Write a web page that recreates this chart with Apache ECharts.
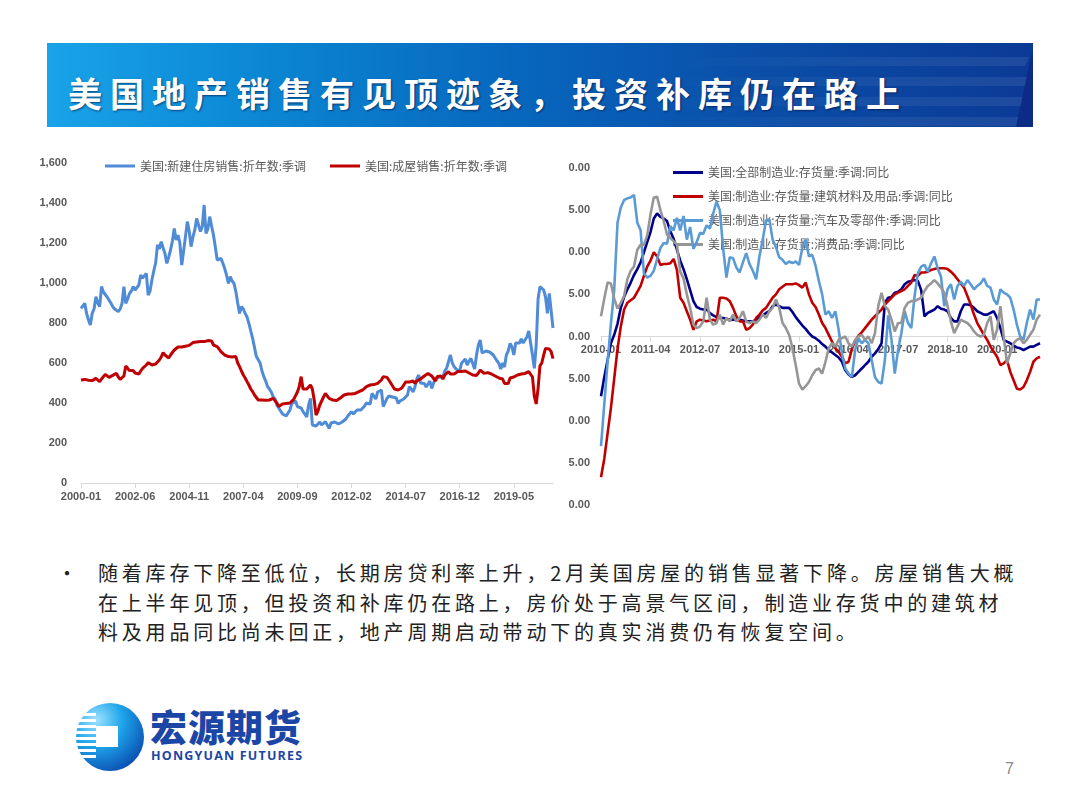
<!DOCTYPE html>
<html><head><meta charset="utf-8">
<script src="https://cdn.jsdelivr.net/npm/echarts@6/dist/echarts.min.js"></script>
<style>
html,body{margin:0;padding:0;background:#fff;}
#page{position:relative;width:1080px;height:810px;overflow:hidden;background:#fff;font-family:"Noto Sans CJK SC","Noto Sans",sans-serif;}
#banner{position:absolute;left:47px;top:43px;width:986px;height:84px;overflow:hidden;
 background:linear-gradient(90deg,#19a3e8 0%,#0b86d3 22%,#0766bd 48%,#0a4ea8 72%,#0b3a96 100%);}
.stripe{position:absolute;left:620px;width:360px;height:9px;background:linear-gradient(90deg,rgba(255,255,255,0) 0%,rgba(255,255,255,0.06) 60%,rgba(255,255,255,0.08) 100%);transform:skewX(-25deg);}
#cap{position:absolute;left:978px;top:0;width:70px;height:84px;background:#0c2b86;transform:skewX(-12deg);border-bottom-right-radius:60px 84px;}
#title{position:absolute;left:68px;top:66px;color:#fff;font-size:34px;font-weight:700;letter-spacing:8px;line-height:54px;white-space:nowrap;text-shadow:1px 1px 2px rgba(0,0,40,0.55);}
#chart1{position:absolute;left:0;top:140px;width:565px;height:380px;}
#clip2{position:absolute;left:569px;top:140px;width:500px;height:380px;overflow:hidden;}
#chart2{position:absolute;left:-30px;top:0;width:530px;height:380px;}
#bullet{position:absolute;left:57px;top:558px;font-size:20px;line-height:29.5px;color:#222;}
#para{position:absolute;left:98px;top:558px;font-size:20px;line-height:29.5px;letter-spacing:3.8px;color:#222;white-space:nowrap;}
#logoText{position:absolute;left:150px;top:703px;font-size:37px;font-weight:900;color:#1c46a6;letter-spacing:1px;line-height:46px;white-space:nowrap;}
#logoEn{position:absolute;left:151px;top:747px;font-size:12.5px;font-weight:700;color:#1c46a6;letter-spacing:1.2px;font-family:"Open Sans","Liberation Sans",sans-serif;white-space:nowrap;}
#pnum{position:absolute;left:1005px;top:760px;font-size:16px;color:#8a8a8a;font-family:"Liberation Sans",sans-serif;}
</style></head>
<body><div id="page">
<div id="banner">
 <div class="stripe" style="top:14px"></div>
 <div class="stripe" style="top:34px"></div>
 <div class="stripe" style="top:54px"></div>
 <div class="stripe" style="top:74px"></div>
 <div id="cap"></div>
</div>
<div id="title">美国地产销售有见顶迹象，投资补库仍在路上</div>
<div id="chart1"></div>
<div id="clip2"><div id="chart2"></div></div>
<div id="bullet">•</div>
<div id="para">随着库存下降至低位，长期房贷利率上升，2月美国房屋的销售显著下降。房屋销售大概<br>在上半年见顶，但投资和补库仍在路上，房价处于高景气区间，制造业存货中的建筑材<br>料及用品同比尚未回正，地产周期启动带动下的真实消费仍有恢复空间。</div>
<svg style="position:absolute;left:70px;top:700px" width="76" height="76" viewBox="0 0 76 76">
 <defs>
  <radialGradient id="lg" cx="30%" cy="25%" r="85%">
   <stop offset="0%" stop-color="#9fe3ff"/>
   <stop offset="45%" stop-color="#1ea5ea"/>
   <stop offset="100%" stop-color="#0a4aae"/>
  </radialGradient>
 </defs>
 <circle cx="40" cy="37" r="34" fill="url(#lg)"/>
 <rect x="0" y="13" width="26" height="3" fill="#fff"/>
 <rect x="0" y="19" width="26" height="3" fill="#fff"/>
 <rect x="0" y="25" width="26" height="3" fill="#fff"/>
 <rect x="0" y="31" width="26" height="3" fill="#fff"/>
 <rect x="0" y="37" width="26" height="3" fill="#fff"/>
 <rect x="0" y="43" width="26" height="3" fill="#fff"/>
 <rect x="0" y="49" width="26" height="3" fill="#fff"/>
 <rect x="0" y="55" width="26" height="3" fill="#fff"/>
 <rect x="26" y="26" width="22" height="21" fill="#fff"/>
</svg>
<div id="logoText">宏源期货</div>
<div id="logoEn">HONGYUAN FUTURES</div>
<div id="pnum">7</div>
</div>
<script>
// ---------- data: left chart (monthly, 2000-01 .. 2021-02) ----------
const leftStart = [2000, 1];
const leftCount = 254;
const newHomeSales = [
873,870,898,848,815,790,848,870,932,900,882,982,
955,948,930,915,900,882,870,865,857,870,898,982,
898,920,948,960,982,965,957,990,1040,1025,1015,1048,
940,960,1015,1060,1100,1190,1170,1207,1175,1148,1098,1130,
1165,1210,1273,1215,1240,1200,1090,1160,1232,1307,1260,1182,
1230,1265,1323,1290,1257,1282,1390,1248,1270,1332,1285,1240,
1180,1115,1125,1123,1100,1073,1040,998,1032,1010,998,957,
900,848,882,870,848,830,798,760,723,715,632,640,
600,560,532,510,482,470,455,432,420,390,375,365,
345,340,335,350,365,398,405,410,382,390,375,357,
345,330,390,423,290,300,285,280,305,290,290,307,
300,273,300,310,305,300,295,300,305,310,320,335,
340,357,345,345,365,370,365,373,385,400,398,395,
448,440,420,455,465,465,382,390,423,435,440,430,
440,425,398,410,415,420,410,440,482,470,455,480,
520,540,500,510,498,480,490,510,473,500,523,520,
530,540,530,560,575,580,640,600,582,570,580,560,
600,607,620,590,610,623,615,570,640,690,715,650,
648,660,665,655,657,640,625,610,598,570,600,580,
640,660,698,680,640,700,710,700,720,700,715,730,
760,770,640,573,690,920,982,975,965,930,848,948,
945,775];
const existingHomeSales = [
515,513,518,512,514,510,512,518,523,515,507,520,
530,543,535,528,532,538,545,548,530,518,518,535,
585,575,562,558,562,550,540,545,560,573,580,590,
602,595,590,585,595,605,615,630,652,640,632,625,
640,650,665,673,680,685,680,682,684,690,688,695,
702,700,705,707,707,710,707,708,712,715,710,690,
685,682,670,657,648,640,636,632,632,630,632,632,
600,582,560,540,525,507,490,470,457,440,430,415,
412,415,415,414,415,415,418,423,415,400,382,390,
395,398,398,402,400,410,418,425,455,482,532,470,
465,470,478,490,470,415,340,360,390,410,430,448,
435,423,430,415,407,412,420,425,430,440,435,445,
448,445,450,448,452,457,460,465,475,482,485,490,
490,492,495,498,505,515,532,540,528,515,500,485,
470,465,465,468,475,490,505,507,505,500,510,498,
510,505,520,530,535,545,548,540,535,545,510,532,
540,535,520,540,550,557,545,540,545,555,557,555,
557,555,560,560,550,548,540,535,538,550,565,560,
548,545,552,548,545,540,535,532,525,520,520,498,
500,498,525,520,530,532,540,540,545,548,548,550,
557,560,530,433,395,472,586,600,640,673,665,670,
657,622];
const leftNames = ['美国:新建住房销售:折年数:季调','美国:成屋销售:折年数:季调'];
const leftYTicks = {min:0, max:1600, interval:200};

// ---------- data: right chart (monthly, 2010-01 .. 2021-02, YoY %) ----------
const rightStart = [2010, 1];
const rightCount = 134;
const invAllMfg = [
-7.1,-4.8,-2.8,-0.8,0.2,1.5,3.4,4.7,5.6,6.4,7.3,8.0,
8.8,10.0,11.2,12.4,14.0,14.6,14.2,14.0,13.7,12.5,11.6,10.3,
9.0,8.0,6.8,5.5,4.2,3.5,3.3,3.2,3.2,2.8,2.5,2.3,
2.2,2.2,2.1,2.0,2.0,2.0,2.0,1.9,1.8,1.8,1.8,2.0,
2.3,2.5,2.8,3.0,3.6,3.8,3.6,3.4,3.4,3.4,2.9,2.3,
1.8,1.3,0.9,0.4,0.0,-0.2,-0.5,-0.9,-1.2,-1.6,-1.9,-2.2,
-2.5,-3.0,-4.0,-4.5,-4.8,-4.6,-4.2,-3.8,-3.4,-3.0,-2.4,-2.0,
-1.5,-0.8,4.0,4.6,4.7,5.2,5.3,5.6,6.2,6.5,6.6,6.7,
6.6,5.5,2.4,2.8,3.0,3.2,3.6,3.3,3.2,3.0,2.2,1.8,
1.8,3.0,3.8,3.8,3.7,3.4,3.0,2.8,2.6,2.6,2.8,3.0,
2.2,1.0,-0.4,-0.6,-0.8,-1.1,-1.3,-1.4,-1.6,-1.4,-1.2,-1.2,
-1.0,-0.8];
const invBuildingMaterials = [
-16.7,-14.5,-11.5,-8.5,-5.0,-1.5,1.2,3.2,4.0,4.3,4.6,5.3,
6.0,7.2,8.3,9.0,10.0,9.5,8.5,8.6,8.6,8.7,9.2,7.9,
4.6,4.0,3.0,2.0,0.8,1.8,2.0,1.9,1.8,1.9,2.0,1.8,
4.6,4.6,4.5,4.2,3.4,2.4,1.8,1.8,0.8,1.0,1.4,2.2,
2.6,3.1,3.4,4.0,4.6,5.0,5.6,5.9,6.2,6.2,6.2,6.3,
6.1,5.8,6.4,5.0,4.0,3.5,2.6,1.6,1.0,0.2,-0.6,-1.4,
-1.8,-2.4,-3.2,-3.0,-1.5,-0.5,0.1,0.5,1.0,1.5,2.0,2.4,
2.8,3.2,3.8,4.2,4.6,5.0,5.2,5.4,5.6,6.0,6.4,7.3,
7.2,7.6,7.6,7.7,7.9,8.0,8.1,8.1,8.1,8.0,7.7,7.3,
6.8,6.3,5.8,4.8,3.8,2.6,1.6,0.9,0.2,-0.4,-1.2,-1.8,
-2.4,-3.4,-3.2,-2.8,-4.2,-5.2,-6.2,-6.3,-6.0,-5.2,-4.2,-3.0,
-2.6,-2.4];
const invAutoParts = [
-13.0,-8.0,-3.0,1.5,5.5,13.5,15.3,16.2,16.4,16.5,16.8,13.5,
12.6,7.5,7.0,7.2,7.8,9.2,10.5,11.1,11.0,13.1,12.6,14.1,
12.6,14.3,11.5,13.0,10.4,11.2,12.3,12.2,13.2,12.8,14.6,16.0,
15.0,10.5,7.0,9.4,9.3,8.2,7.6,8.8,9.9,8.6,7.8,6.8,
9.5,11.5,13.8,13.9,11.5,10.6,9.4,9.1,8.6,8.9,8.7,8.9,
8.5,10.5,11.5,9.5,9.7,8.4,6.6,5.0,2.6,3.0,2.2,3.0,
0.8,-2.0,-3.8,-4.4,-4.8,-1.6,-0.2,-0.8,-0.4,-0.8,-2.8,-4.8,
-5.4,-5.6,-2.8,2.5,-0.4,-4.4,-1.6,0.4,3.0,1.6,1.0,4.8,
7.5,8.3,8.5,7.7,8.7,9.5,8.1,7.1,3.6,5.6,6.2,4.4,
6.0,6.5,6.0,6.7,6.2,5.6,6.0,6.3,6.9,6.0,5.8,4.4,
3.8,5.6,5.2,5.0,4.6,3.2,1.4,0.0,-0.4,1.6,3.2,2.0,
4.4,4.4];
const invConsumerGoods = [
2.4,4.5,6.4,6.3,4.5,3.3,4.0,4.8,6.8,7.8,8.3,10.3,
10.9,10.9,12.0,14.5,16.5,16.6,15.0,13.7,12.1,11.7,11.3,10.9,
7.7,6.9,5.0,3.4,1.4,1.0,1.2,1.8,4.6,2.0,1.4,1.6,
2.6,1.4,2.2,1.8,2.6,1.8,2.2,3.0,1.8,1.6,1.8,1.6,
2.0,2.6,2.2,3.0,3.4,4.4,3.4,1.6,1.0,0.2,-1.4,-3.4,
-5.6,-6.3,-5.9,-5.4,-4.6,-4.0,-3.8,-4.4,-3.0,-1.4,-0.8,-1.2,
-0.4,-0.2,0.0,-0.8,-1.2,-0.4,0.0,0.2,-0.4,0.0,-0.8,0.4,
3.6,5.2,3.6,3.2,2.0,0.6,1.6,1.6,3.4,4.0,4.2,4.2,
4.4,4.6,5.4,6.0,6.3,6.7,6.3,5.8,5.2,3.6,1.8,0.4,
1.2,2.0,1.8,1.6,1.2,0.6,0.2,0.0,0.2,1.6,2.4,-0.4,
0.8,3.6,0.0,-3.2,-2.0,-0.8,-0.4,-0.2,-0.8,-0.4,0.2,0.8,
2.0,2.6];
const rightNames = ['美国:全部制造业:存货量:季调:同比','美国:制造业:存货量:建筑材料及用品:季调:同比','美国:制造业:存货量:汽车及零部件:季调:同比','美国:制造业:存货量:消费品:季调:同比'];
const rightYTicks = {min:-20, max:20, interval:5};

// ---------- helpers ----------
function monthLabels(start, n){
  const out=[]; let y=start[0], m=start[1];
  for(let k=0;k<n;k++){ out.push(y+'-'+String(m).padStart(2,'0')); m++; if(m>12){m=1;y++;} }
  return out;
}
const leftCategories = monthLabels(leftStart, leftCount);
const rightCategories = monthLabels(rightStart, rightCount);

const axisGray = '#595959';
const lineGray = '#d9d9d9';
const labelFont = {color:axisGray, fontSize:11, fontWeight:'bold', fontFamily:'Liberation Sans, Arial, sans-serif'};
const legendText = {color:axisGray, fontSize:12, fontFamily:'Noto Sans CJK SC, sans-serif'};

// ---------- left chart ----------
const leftColors = ['#4F8BD6','#C00000'];
const c1 = echarts.init(document.getElementById('chart1'), null, {renderer:'canvas'});
c1.setOption({
  animation:false,
  grid:{left:81, right:12, top:23, bottom:37, containLabel:false},
  legend:{
    left:100, top:15, itemWidth:30, itemHeight:3, itemGap:24, z:1, icon:'rect',
    textStyle:legendText,
    data:leftNames
  },
  xAxis:{
    type:'category', data:leftCategories, boundaryGap:false,
    axisLine:{lineStyle:{color:lineGray, width:1}},
    axisTick:{show:true, interval:28, length:5, lineStyle:{color:lineGray}},
    axisLabel:Object.assign({interval:28, margin:8}, labelFont),
    splitLine:{show:false}
  },
  yAxis:{
    type:'value', min:leftYTicks.min, max:leftYTicks.max, interval:leftYTicks.interval,
    axisLine:{show:false}, axisTick:{show:false}, splitLine:{show:false},
    axisLabel:Object.assign({margin:14, formatter:v=>v.toLocaleString('en-US')}, labelFont)
  },
  series:[
    {name:leftNames[0], type:'line', data:newHomeSales, symbol:'none', showSymbol:false,
     lineStyle:{color:leftColors[0], width:3}, itemStyle:{color:leftColors[0]}, z:2},
    {name:leftNames[1], type:'line', data:existingHomeSales, symbol:'none', showSymbol:false,
     lineStyle:{color:leftColors[1], width:3}, itemStyle:{color:leftColors[1]}, z:3}
  ]
});

// ---------- right chart ----------
const rColors = ['#00008B','#C00000','#5B9BD5','#969696'];
const rData = [invAllMfg, invBuildingMaterials, invAutoParts, invConsumerGoods];
const c2 = echarts.init(document.getElementById('chart2'), null, {renderer:'canvas'});
c2.setOption({
  animation:false,
  grid:{left:62, right:29, top:28, bottom:15, containLabel:false},
  legend:{
    orient:'vertical', left:129, top:19, itemWidth:30, itemHeight:3, itemGap:7, z:1, icon:'rect',
    textStyle:Object.assign({lineHeight:17}, legendText),
    data:rightNames
  },
  xAxis:{
    type:'category', data:rightCategories, boundaryGap:false, position:'bottom', offset:-168.5,
    axisLine:{onZero:false, lineStyle:{color:lineGray, width:1}},
    axisTick:{show:true, interval:14, length:5, lineStyle:{color:lineGray}},
    axisLabel:Object.assign({interval:14, margin:8}, labelFont),
    splitLine:{show:false}
  },
  yAxis:{
    type:'value', min:rightYTicks.min, max:rightYTicks.max, interval:rightYTicks.interval,
    axisLine:{show:false}, axisTick:{show:false}, splitLine:{show:false},
    axisLabel:Object.assign({margin:11, formatter:v=>v.toFixed(2)}, labelFont)
  },
  series:rightNames.map((n,k)=>({
    name:n, type:'line', data:rData[k], symbol:'none', showSymbol:false, z:2+k,
    lineStyle:{color:rColors[k], width:2.6}, itemStyle:{color:rColors[k]}
  }))
});
</script>
</body></html>
